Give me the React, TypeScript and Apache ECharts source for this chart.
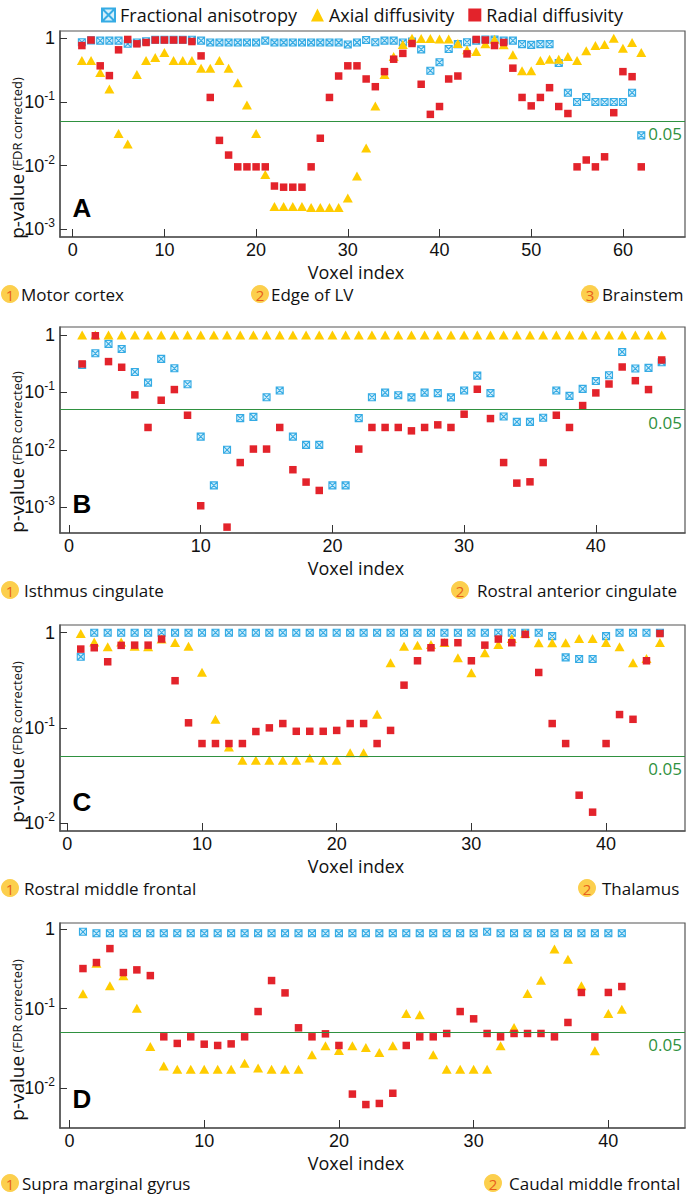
import { useEffect, useRef } from "react";
import * as echarts from "echarts";

// ---------------- DATA (p-values, FDR corrected) ----------------
const FA_A = [0.87, 0.93, 0.92, 0.92, 0.92, 0.82, 0.86, 0.9, 0.95, 0.95, 0.95, 0.95, 0.95, 0.92, 0.86, 0.86, 0.86, 0.86, 0.86, 0.86, 0.92, 0.86, 0.86, 0.86, 0.86, 0.86, 0.86, 0.86, 0.86, 0.8, 0.86, 0.94, 0.87, 0.92, 0.92, 0.86, 0.89, 0.67, 0.31, 0.42, 0.68, 0.81, 0.87, 0.92, 0.96, 0.96, 0.92, 0.92, 0.81, 0.79, 0.81, 0.81, 0.41, 0.14, 0.1, 0.12, 0.1, 0.1, 0.1, 0.1, 0.14, 0.03];
const AD_A = [0.45, 0.45, 0.29, 0.16, 0.032, 0.022, 0.27, 0.45, 0.5, 0.6, 0.45, 0.45, 0.45, 0.34, 0.34, 0.45, 0.34, 0.2, 0.09, 0.032, 0.0073, 0.0023, 0.0023, 0.0023, 0.0023, 0.0022, 0.0022, 0.0022, 0.0022, 0.0031, 0.0069, 0.019, 0.087, 0.27, 0.52, 0.8, 1.0, 0.99, 0.99, 0.98, 0.98, 0.83, 0.66, 0.62, 0.82, 0.97, 0.79, 0.55, 0.31, 0.31, 0.45, 0.47, 0.47, 0.52, 0.45, 0.64, 0.77, 0.8, 1.0, 0.7, 0.86, 0.6];
const RD_A = [0.77, 0.94, 0.37, 0.26, 0.66, 0.96, 0.82, 0.86, 0.94, 0.94, 0.94, 0.94, 0.89, 0.53, 0.118, 0.025, 0.0147, 0.0096, 0.0096, 0.0096, 0.0096, 0.0048, 0.0046, 0.0046, 0.0046, 0.0096, 0.027, 0.118, 0.256, 0.37, 0.37, 0.23, 0.174, 0.3, 0.47, 0.58, 0.83, 0.19, 0.064, 0.085, 0.23, 0.256, 0.57, 0.96, 0.94, 0.77, 0.86, 0.34, 0.118, 0.087, 0.118, 0.168, 0.085, 0.066, 0.0096, 0.0123, 0.0096, 0.0138, 0.068, 0.3, 0.25, 0.0096];

const FA_B = [0.3, 0.48, 0.7, 0.57, 0.227, 0.148, 0.383, 0.263, 0.139, 0.017, 0.0024, 0.01, 0.0356, 0.0375, 0.0824, 0.108, 0.017, 0.0122, 0.0122, 0.0024, 0.0024, 0.0356, 0.0824, 0.099, 0.089, 0.082, 0.099, 0.097, 0.082, 0.108, 0.196, 0.097, 0.038, 0.0307, 0.0307, 0.0362, 0.108, 0.087, 0.115, 0.158, 0.199, 0.506, 0.26, 0.267, 0.335];
const AD_B = [1, 1, 1, 1, 1, 1, 1, 1, 1, 1, 1, 1, 1, 1, 1, 1, 1, 1, 1, 1, 1, 1, 1, 1, 1, 1, 1, 1, 1, 1, 1, 1, 1, 1, 1, 1, 1, 1, 1, 1, 1, 1, 1, 1, 1];
const RD_B = [0.313, 0.97, 0.344, 0.274, 0.0905, 0.0245, 0.073, 0.112, 0.04, 0.00106, null, 0.00045, 0.006, 0.0103, 0.0103, 0.0245, 0.0045, 0.00274, 0.00196, null, null, 0.0103, 0.0245, 0.0245, 0.0245, 0.0214, 0.0245, 0.0272, 0.0245, 0.0417, 0.1135, 0.035, 0.006, 0.00263, 0.00277, 0.006, 0.04, 0.0245, 0.059, 0.098, 0.14, 0.277, 0.16, 0.112, 0.367];

const FA_C = [0.559, 1, 1, 1, 1, 1, 1, 1, 1, 1, 1, 1, 1, 1, 1, 1, 1, 1, 1, 1, 1, 1, 1, 1, 1, 1, 1, 1, 1, 1, 1, 1, 1, 1, 1, 0.92, 0.55, 0.53, 0.53, 0.92, 1, 1, 1, 1];
const AD_C = [0.98, 0.8, 0.71, 0.8, 0.72, 0.71, 0.86, 0.79, 0.72, 0.385, 0.123, 0.063, 0.0457, 0.0457, 0.0457, 0.0457, 0.0457, 0.0483, 0.0457, 0.0457, 0.0546, 0.0546, 0.139, 0.483, 0.72, 0.74, 0.753, 0.79, 0.546, 0.38, 0.616, 0.753, 0.87, 0.98, 0.785, 0.785, 0.785, 0.87, 0.87, 0.79, 0.71, 0.483, 0.537, 0.79];
const RD_C = [0.673, 0.695, 0.495, 0.736, 0.74, 0.74, 0.857, 0.313, 0.113, 0.0684, 0.0684, 0.0684, 0.0684, 0.0915, 0.1, 0.111, 0.092, 0.092, 0.092, 0.094, 0.111, 0.111, 0.0684, 0.094, 0.281, 0.507, 0.695, 0.79, 0.785, 0.507, 0.74, 0.857, 0.785, 0.96, 0.382, 0.111, 0.0684, 0.0196, 0.013, 0.0684, 0.138, 0.123, 0.507, 0.98];

const FA_D = [0.93, 0.89, 0.89, 0.89, 0.89, 0.89, 0.89, 0.89, 0.89, 0.89, 0.89, 0.89, 0.89, 0.89, 0.89, 0.89, 0.89, 0.89, 0.89, 0.89, 0.89, 0.89, 0.89, 0.89, 0.89, 0.89, 0.89, 0.89, 0.89, 0.89, 0.93, 0.89, 0.89, 0.89, 0.89, 0.89, 0.89, 0.89, 0.89, 0.89, 0.89];
const AD_D = [0.154, 0.373, 0.195, 0.259, 0.101, 0.0334, 0.0189, 0.0172, 0.0172, 0.0172, 0.0172, 0.0172, 0.0206, 0.0179, 0.0172, 0.0172, 0.0172, 0.0262, 0.034, 0.0298, 0.034, 0.0325, 0.0281, 0.034, 0.0869, 0.0836, 0.0262, 0.0172, 0.0172, 0.0172, 0.0172, 0.034, 0.058, 0.155, 0.228, 0.566, 0.419, 0.194, 0.0295, 0.0869, 0.0986];
const RD_D = [0.32, 0.381, 0.571, 0.285, 0.308, 0.261, 0.0442, 0.0365, 0.0442, 0.0357, 0.0344, 0.036, 0.0442, 0.092, 0.226, 0.158, 0.0574, 0.0442, 0.0482, 0.0344, 0.0084, 0.0062, 0.0064, 0.0086, 0.0344, 0.0442, 0.0442, 0.0487, 0.092, 0.0745, 0.0487, 0.0442, 0.0487, 0.0487, 0.0487, 0.0442, 0.067, 0.16, 0.0442, 0.16, 0.19];

const THRESHOLD = 0.05;
const SERIES_NAMES = ["Fractional anisotropy", "Axial diffusivity", "Radial diffusivity"];
const X_TICKS_A = [0, 10, 20, 30, 40, 50, 60];
const X_TICKS_BCD = [0, 10, 20, 30, 40];
const Y_TICKS_4 = [0, -1, -2, -3];
const Y_TICKS_3 = [0, -1, -2];
const REGIONS_A = ["Motor cortex", "Edge of LV", "Brainstem"];
const REGIONS_B = ["Isthmus cingulate", "Rostral anterior cingulate"];
const REGIONS_C = ["Rostral middle frontal", "Thalamus"];
const REGIONS_D = ["Supra marginal gyrus", "Caudal middle frontal"];

// ---------------- LAYOUT ----------------
const PANELS = [
  { letter: "A", fa: FA_A, ad: AD_A, rd: RD_A, top: 31, height: 206, xMin: -1.385, xMax: 66.77, yMin: -3.119, yMax: 0.115, xTicks: X_TICKS_A, yTicks: Y_TICKS_4, regions: REGIONS_A, badgeX: [10, 260, 590], textX: [21, 271, 602], pY: 158, labY: 294 },
  { letter: "B", fa: FA_B, ad: AD_B, rd: RD_B, top: 327, height: 206, xMin: -0.683, xMax: 46.77, yMin: -3.449, yMax: 0.139, xTicks: X_TICKS_BCD, yTicks: Y_TICKS_4, regions: REGIONS_B, badgeX: [10, 460], textX: [24, 477], pY: 452, labY: 590 },
  { letter: "C", fa: FA_C, ad: AD_C, rd: RD_C, top: 625, height: 206, xMin: -0.542, xMax: 45.86, yMin: -2.084, yMax: 0.081, xTicks: X_TICKS_BCD, yTicks: Y_TICKS_3, regions: REGIONS_C, badgeX: [10, 587], textX: [24, 602], pY: 742, labY: 888 },
  { letter: "D", fa: FA_D, ad: AD_D, rd: RD_D, top: 923, height: 205, xMin: -0.705, xMax: 45.69, yMin: -2.503, yMax: 0.079, xTicks: X_TICKS_BCD, yTicks: Y_TICKS_3, regions: REGIONS_D, badgeX: [10, 493], textX: [22, 509], pY: 1040, labY: 1183 },
];

const LEFT = 60;
const WIDTH = 625;
const FA_PATH = "path://M0 0H10V10H0Z M0 0L10 10 M10 0L0 10";
const C_FA_FILL = "#d3effb";
const C_FA_EDGE = "#35abe4";
const C_AD = "#ffcc00";
const C_RD = "#e3232b";
const C_GREEN = "#2f9140";
const HUMANIST = "'Open Sans', 'Noto Sans', sans-serif";
const ARIAL = "'Liberation Sans', Arial, sans-serif";

const toPoints = (vals: (number | null)[]) =>
  vals
    .map((v, i) => (v == null ? null : [i + 1, Math.log10(v)]))
    .filter((p) => p !== null);

function buildOption() {
  const grid: any[] = [];
  const xAxis: any[] = [];
  const yAxis: any[] = [];
  const series: any[] = [];
  const graphic: any[] = [];

  PANELS.forEach((p, k) => {
    grid.push({ left: LEFT, top: p.top, width: WIDTH, height: p.height, show: true, borderColor: "#555", borderWidth: 1.2, containLabel: false });
    xAxis.push({
      gridIndex: k, type: "value", min: p.xMin, max: p.xMax,
      axisLine: { show: true, onZero: false, lineStyle: { color: "#555", width: 1.5 } },
      axisTick: { show: true, inside: true, length: 8, customValues: p.xTicks, lineStyle: { color: "#333", width: 1 } },
      axisLabel: { customValues: p.xTicks, margin: 4, fontFamily: ARIAL, fontSize: 18, color: "#111" },
      splitLine: { show: false },
    });
    yAxis.push({
      gridIndex: k, type: "value", min: p.yMin, max: p.yMax,
      axisLine: { show: true, onZero: false, lineStyle: { color: "#555", width: 1.5 } },
      axisTick: { show: true, inside: true, length: 7, customValues: p.yTicks, lineStyle: { color: "#333", width: 1 } },
      axisLabel: {
        customValues: p.yTicks, margin: 5, color: "#111",
        formatter: (v: number) => {
          const e = Math.round(v);
          return e === 0 ? "{n|1}" : `{n|10}{e|-${-e}}`;
        },
        rich: {
          n: { fontFamily: ARIAL, fontSize: 18, lineHeight: 24, color: "#111" },
          e: { fontFamily: ARIAL, fontSize: 12, lineHeight: 13, verticalAlign: "top", color: "#111" },
        },
      },
      splitLine: { show: false },
    });

    series.push({
      name: SERIES_NAMES[0], type: "scatter", xAxisIndex: k, yAxisIndex: k,
      symbol: FA_PATH, symbolSize: 7,
      itemStyle: { color: C_FA_FILL, borderColor: C_FA_EDGE, borderWidth: 1.1, opacity: 1 },
      data: toPoints(p.fa),
      markLine: {
        silent: true, symbol: ["none", "none"],
        lineStyle: { color: C_GREEN, width: 1, type: "solid" },
        label: { show: true, position: "insideEndBottom", formatter: "0.05", color: C_GREEN, fontSize: 17, fontFamily: HUMANIST, distance: [3, 4] },
        data: [{ yAxis: Math.log10(THRESHOLD) }],
      },
    });
    series.push({
      name: SERIES_NAMES[1], type: "scatter", xAxisIndex: k, yAxisIndex: k,
      symbol: "triangle", symbolSize: [10, 9],
      itemStyle: { color: C_AD, opacity: 1 },
      data: toPoints(p.ad),
    });
    series.push({
      name: SERIES_NAMES[2], type: "scatter", xAxisIndex: k, yAxisIndex: k,
      symbol: "rect", symbolSize: 7.5,
      itemStyle: { color: C_RD, opacity: 1 },
      data: toPoints(p.rd),
    });

    const bottom = p.top + p.height;
    graphic.push({
      type: "text", x: 82, y: bottom - 29,
      style: { text: p.letter, font: `bold 26px ${ARIAL}`, fill: "#000", align: "center", verticalAlign: "middle", textAlign: "center", textVerticalAlign: "middle" },
    });
    graphic.push({
      type: "text", x: 356, y: bottom + 35,
      style: { text: "Voxel index", font: `18px ${HUMANIST}`, fill: "#111", align: "center", verticalAlign: "middle", textAlign: "center", textVerticalAlign: "middle" },
    });
    graphic.push({
      type: "text", x: 17, y: p.pY, rotation: Math.PI / 2,
      style: {
        text: "{a|p-value} {b|(FDR corrected)}",
        rich: { a: { fontFamily: HUMANIST, fontSize: 19, fill: "#111" }, b: { fontFamily: HUMANIST, fontSize: 13, fill: "#111" } },
        fill: "#111", align: "center", verticalAlign: "middle", textAlign: "center", textVerticalAlign: "middle",
      },
    });
    p.regions.forEach((name, j) => {
      const yy = p.labY;
      graphic.push({ type: "circle", shape: { cx: p.badgeX[j], cy: yy, r: 9 }, style: { fill: "#fccf4d" } });
      graphic.push({
        type: "text", x: p.badgeX[j], y: yy + 1,
        style: { text: String(j + 1), font: `15px ${HUMANIST}`, lineHeight: 16, fill: "#e8601c", align: "center", verticalAlign: "middle", textAlign: "center", textVerticalAlign: "middle" },
      });
      graphic.push({
        type: "text", x: p.textX[j], y: yy,
        style: { text: name, font: `17px ${HUMANIST}`, lineHeight: 18, fill: "#111", align: "left", verticalAlign: "middle", textAlign: "left", textVerticalAlign: "middle" },
      });
    });
  });

  return {
    animation: false,
    backgroundColor: "#ffffff",
    legend: {
      top: 1, left: 96, itemWidth: 13, itemHeight: 13, itemGap: 14,
      textStyle: { fontFamily: HUMANIST, fontSize: 18, color: "#111" },
      data: [
        { name: SERIES_NAMES[0], icon: FA_PATH },
        { name: SERIES_NAMES[1], icon: "triangle" },
        { name: SERIES_NAMES[2], icon: "rect" },
      ],
      selectedMode: false,
    },
    grid, xAxis, yAxis, series, graphic,
  };
}

export default function App() {
  const ref = useRef<HTMLDivElement>(null);
  useEffect(() => {
    if (!ref.current) return;
    const chart = echarts.init(ref.current, undefined, { renderer: "svg" });
    chart.setOption(buildOption() as any);
    return () => chart.dispose();
  }, []);
  return <div ref={ref} style={{ position: "absolute", left: 0, top: 0, width: 686, height: 1195, background: "#fff" }} />;
}
